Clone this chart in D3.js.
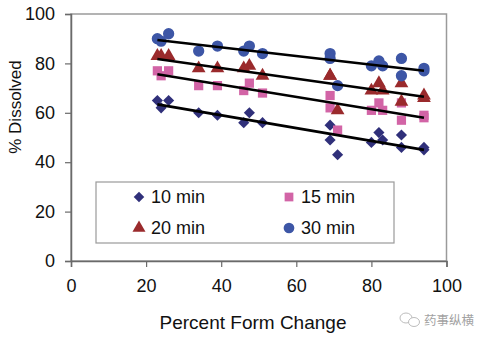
<!DOCTYPE html>
<html><head><meta charset="utf-8">
<script src="https://cdn.jsdelivr.net/npm/d3@7"></script>
<style>
html,body{margin:0;padding:0;background:#fff;}
svg{display:block;font-family:"Liberation Sans",Arial,sans-serif;}
</style></head>
<body><svg id="c" width="488" height="341"></svg>
<script>
const formChange = [23, 24, 26, 34, 39, 46, 47.5, 51, 69, 69, 71, 80, 82, 83, 88, 88, 94, 94];
const min10 = [65, 62, 65, 60, 59, 56, 60, 56, 55, 49, 43, 48, 52, 49, 51, 46, 46, 45];
const min15 = [77, 75, 77, 71, 71, 69, 72, 68, 67, 62, 53, 61, 64, 61, 64, 57, 59, 58];
const min20 = [83, 83, 83, 78, 78, 78, 79, 75, 75, 75, 61, 69, 72, 69, 72, 64.5, 67, 66];
const min30 = [90, 89, 92, 85, 87, 85, 87, 84, 84, 82, 71, 79, 81, 79, 82, 75, 78, 77];
const trendX = [23, 94];
const trend10 = [63.4, 45];
const trend15 = [75.6, 58];
const trend20 = [81.8, 66.5];
const trend30 = [89.5, 77];
const seriesNames = ["10 min", "15 min", "20 min", "30 min"];
const xTicks = [0, 20, 40, 60, 80, 100];
const yTicks = [0, 20, 40, 60, 80, 100];

const series = [
  {name: seriesNames[0], vals: min10, trend: trend10, shape: d3.symbolSquare, rot: 45, size: 62, color: "#30307a"},
  {name: seriesNames[1], vals: min15, trend: trend15, shape: d3.symbolSquare, rot: 0, size: 85, color: "#d264a6"},
  {name: seriesNames[2], vals: min20, trend: trend20, shape: d3.symbolTriangle, rot: 0, size: 82, color: "#9a2a2c"},
  {name: seriesNames[3], vals: min30, trend: trend30, shape: d3.symbolCircle, rot: 0, size: 100, color: "#3d56a6"}
];

const svg = d3.select("#c");
const L = 71, R = 446.5, T = 14, B = 261;
const x = d3.scaleLinear().domain([0, 100]).range([L, R]);
const y = d3.scaleLinear().domain([0, 100]).range([B, T]);

svg.append("rect").attr("x", L).attr("y", T).attr("width", R - L).attr("height", B - T)
  .attr("fill", "#fff").attr("stroke", "#9a9a9a").attr("stroke-width", 1.5);

const xAxis = svg.append("g").attr("transform", `translate(0,${B})`)
  .call(d3.axisBottom(x).tickValues(xTicks).tickSize(6).tickPadding(8));
const yAxis = svg.append("g").attr("transform", `translate(${L},0)`)
  .call(d3.axisLeft(y).tickValues(yTicks).tickSize(6).tickPadding(10));
[xAxis, yAxis].forEach(g => {
  g.select(".domain").attr("stroke", "#6a6a6a").attr("stroke-width", 1.5);
  g.selectAll(".tick line").attr("stroke", "#6a6a6a").attr("stroke-width", 1.2);
  g.selectAll(".tick text").attr("font-size", 18).attr("fill", "#111")
    .attr("font-family", '"Liberation Sans",Arial,sans-serif');
});
xAxis.selectAll(".tick text").attr("dy", "0.95em");

svg.append("text").attr("x", 253).attr("y", 329).attr("text-anchor", "middle")
  .attr("font-size", 19).attr("fill", "#111").text("Percent Form Change");
svg.append("text").attr("transform", "translate(21,107) rotate(-90)").attr("text-anchor", "middle")
  .attr("font-size", 17).attr("fill", "#111").text("% Dissolved");

series.forEach(s => {
  svg.append("g").selectAll("path").data(s.vals).join("path")
    .attr("transform", (d, i) => `translate(${x(formChange[i])},${y(d)}) rotate(${s.rot})`)
    .attr("d", d3.symbol().type(s.shape).size(s.size)())
    .attr("fill", s.color);
});

const line = d3.line().x(d => x(d[0])).y(d => y(d[1]));
series.forEach(s => {
  svg.append("path").attr("d", line(trendX.map((v, i) => [v, s.trend[i]])))
    .attr("stroke", "#000").attr("stroke-width", 2.6).attr("fill", "none");
});

svg.append("rect").attr("x", 96).attr("y", 182).attr("width", 298).attr("height", 61)
  .attr("fill", "#fff").attr("stroke", "#9a9a9a").attr("stroke-width", 1.2);
const legPos = [[139, 197], [289, 197], [139, 228], [289, 228]];
series.forEach((s, i) => {
  const [lx, ly] = legPos[i];
  svg.append("path").attr("transform", `translate(${lx},${ly}) rotate(${s.rot})`)
    .attr("d", d3.symbol().type(s.shape).size(s.size * 0.9)()).attr("fill", s.color);
  svg.append("text").attr("x", lx + 12).attr("y", ly).attr("dy", "0.36em")
    .attr("font-size", 18).attr("fill", "#111").text(s.name);
});

const wm = svg.append("g").attr("opacity", 0.55);
wm.append("ellipse").attr("cx", 406).attr("cy", 318).attr("rx", 6).attr("ry", 5)
  .attr("fill", "none").attr("stroke", "#888").attr("stroke-width", 1);
wm.append("ellipse").attr("cx", 414).attr("cy", 322).attr("rx", 5.5).attr("ry", 4.5)
  .attr("fill", "#fff").attr("stroke", "#888").attr("stroke-width", 1);
wm.append("text").attr("x", 424).attr("y", 325).attr("font-size", 12.5).attr("fill", "#555")
  .attr("font-family", '"Noto Sans CJK SC",sans-serif').text("药事纵横");
</script></body></html>
